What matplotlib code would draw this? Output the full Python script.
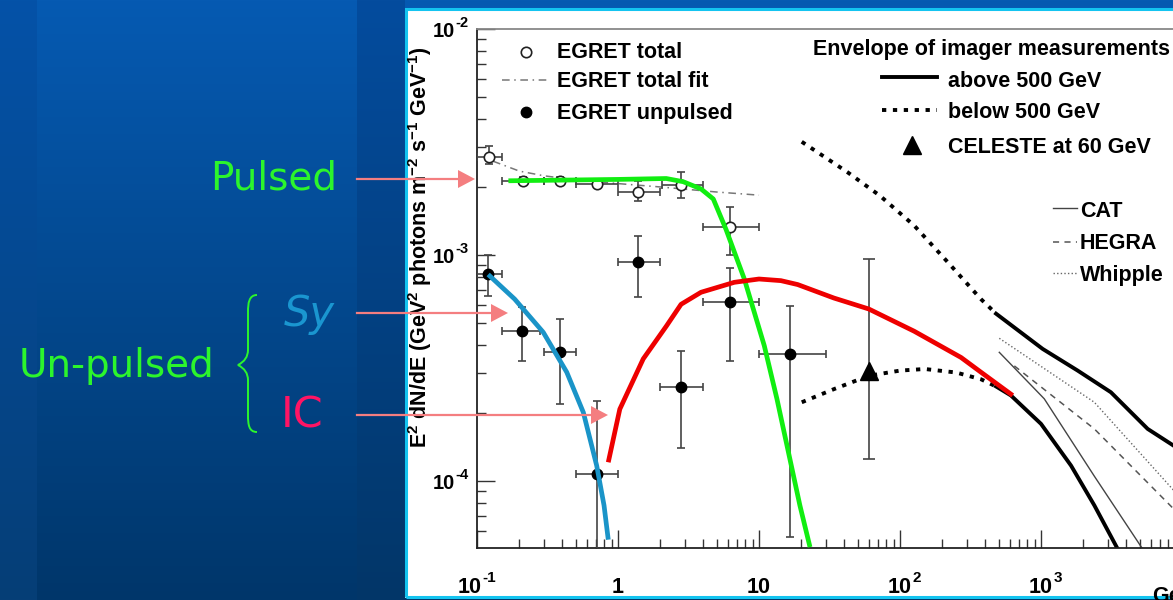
import numpy as np
import matplotlib
matplotlib.use('Agg')
import matplotlib.pyplot as plt
from matplotlib.lines import Line2D
from matplotlib.patches import Rectangle, Polygon, PathPatch
from matplotlib.path import Path
from matplotlib.transforms import IdentityTransform, blended_transform_factory, offset_copy

plt.rcParams['mathtext.fontset'] = 'custom'
plt.rcParams['mathtext.rm'] = 'Liberation Sans:bold'
plt.rcParams['mathtext.bf'] = 'Liberation Sans:bold'
plt.rcParams['mathtext.it'] = 'Liberation Sans:bold'
plt.rcParams['mathtext.sf'] = 'Liberation Sans:bold'
plt.rcParams['mathtext.default'] = 'bf'

# ---------------- data (GeV, E^2 dN/dE) ----------------
egret_total_E = [0.122, 0.211, 0.388, 0.706, 1.39, 2.80, 6.22]
egret_total_F = [2.72e-3, 2.13e-3, 2.13e-3, 2.07e-3, 1.90e-3, 2.05e-3, 1.33e-3]
egret_total_Elo = [0.10, 0.15, 0.30, 0.50, 1.00, 2.05, 4.00]
egret_total_Ehi = [0.15, 0.30, 0.50, 1.00, 2.00, 4.00, 10.0]
egret_total_Flo = [2.53e-3, 2.06e-3, 2.06e-3, 2.00e-3, 1.74e-3, 1.78e-3, 1.00e-3]
egret_total_Fhi = [3.05e-3, 2.21e-3, 2.21e-3, 2.14e-3, 2.13e-3, 2.32e-3, 1.63e-3]

fit_E = [0.13, 0.2, 0.3, 0.5, 1.0, 2.0, 5.0, 10.0]
fit_F = [2.60e-3, 2.35e-3, 2.24e-3, 2.15e-3, 2.07e-3, 2.00e-3, 1.90e-3, 1.84e-3]

unpulsed_E = [0.120, 0.207, 0.390, 0.710, 1.39, 2.80, 6.20, 16.6]
unpulsed_F = [8.2e-4, 4.62e-4, 3.73e-4, 1.07e-4, 9.3e-4, 2.6e-4, 6.18e-4, 3.65e-4]
unpulsed_Elo = [0.10, 0.15, 0.30, 0.50, 1.0, 2.0, 4.0, 10.0]
unpulsed_Ehi = [0.15, 0.28, 0.50, 1.0, 2.0, 4.0, 10.0, 30.0]
unpulsed_Flo = [6.6e-4, 3.4e-4, 2.2e-4, 1.0e-5, 6.5e-4, 1.4e-4, 3.4e-4, 5.65e-5]
unpulsed_Fhi = [1.0e-3, 5.9e-4, 5.2e-4, 2.25e-4, 1.21e-3, 3.76e-4, 8.8e-4, 5.94e-4]

celeste_E = [60.0]
celeste_F = [3.08e-4]
celeste_Flo = [1.25e-4]
celeste_Fhi = [9.6e-4]

upper_dotted_E = [20.1, 42.6, 72, 126, 218, 375, 480]
upper_dotted_F = [3.17e-3, 2.32e-3, 1.83e-3, 1.35e-3, 9.3e-4, 6.38e-4, 5.5e-4]
upper_solid_E = [480, 1028, 1820, 3130, 5710, 8770, 12000]
upper_solid_F = [5.5e-4, 3.84e-4, 3.08e-4, 2.47e-4, 1.70e-4, 1.43e-4, 1.2e-4]
lower_dotted_E = [20.1, 34, 60, 100, 150, 250, 375, 480]
lower_dotted_F = [2.23e-4, 2.55e-4, 2.92e-4, 3.08e-4, 3.13e-4, 3.02e-4, 2.82e-4, 2.62e-4]
lower_solid_E = [480, 612, 1000, 1633, 2390, 3500]
lower_solid_F = [2.62e-4, 2.39e-4, 1.79e-4, 1.17e-4, 7.8e-5, 5.0e-5]

cat_E = [506, 1055, 2390, 5260]
cat_F = [3.71e-4, 2.31e-4, 1.05e-4, 5.0e-5]
hegra_E = [647, 2390, 8770, 12000]
hegra_F = [3.23e-4, 1.70e-4, 7.5e-5, 5.9e-5]
whipple_E = [506, 2390, 8770, 12000]
whipple_F = [4.28e-4, 2.23e-4, 9.06e-5, 7.0e-5]

pulsed_E = [0.167, 1.0, 2.2, 2.9, 3.88, 4.74, 5.83, 7.87, 10.9, 13.4, 19.5, 23]
pulsed_F = [2.13e-3, 2.16e-3, 2.18e-3, 2.11e-3, 1.96e-3, 1.77e-3, 1.30e-3,
            7.83e-4, 3.97e-4, 2.31e-4, 7.8e-5, 5.1e-5]
sy_E = [0.120, 0.185, 0.295, 0.433, 0.568, 0.706, 0.796, 0.853]
sy_F = [8.2e-4, 6.38e-4, 4.55e-4, 3.03e-4, 2.01e-4, 1.17e-4, 7.8e-5, 5.5e-5]
ic_E = [0.853, 1.03, 1.51, 2.21, 2.8, 3.88, 6.68, 10, 14.3, 18.8, 34, 60, 126, 271, 375, 630]
ic_F = [1.21e-4, 2.08e-4, 3.47e-4, 4.86e-4, 6.05e-4, 6.84e-4, 7.57e-4, 7.83e-4, 7.7e-4,
        7.4e-4, 6.45e-4, 5.77e-4, 4.6e-4, 3.52e-4, 3.03e-4, 2.39e-4]

xtick_vals = [0.1, 1, 10, 100, 1000]
xtick_base = ['10', '1', '10', '10', '10']
xtick_exp = ['-1', '', '', '2', '3']
ytick_vals = [1e-4, 1e-3, 1e-2]
ytick_base = ['10', '10', '10']
ytick_exp = ['-4', '-3', '-2']

legend_left = ['EGRET total', 'EGRET total fit', 'EGRET unpulsed']
legend_right_title = 'Envelope of imager measurements'
legend_right = ['above 500 GeV', 'below 500 GeV', 'CELESTE at 60 GeV']
legend_tel = ['CAT', 'HEGRA', 'Whipple']

# ---------------- figure ----------------
W, H = 1173, 600
fig = plt.figure(figsize=(W / 100, H / 100), dpi=100)
ID = IdentityTransform()

def Y(y):
    return H - y

# background slide gradient
bg = fig.add_axes([0, 0, 1, 1], zorder=-10)
bg.axis('off')
t = np.linspace(0, 1, H)[:, None, None]
def grad(top, bot):
    top = np.array(top, float)[None, None, :] / 255
    bot = np.array(bot, float)[None, None, :] / 255
    return top + (bot - top) * t
img = np.zeros((H, W, 3))
img[:, :, :] = grad((6, 90, 178), (0, 54, 106))
img[:, :37, :] = grad((4, 82, 168), (6, 62, 118))
img[:, 357:405, :] = grad((4, 76, 158), (2, 54, 104))
bg.imshow(img, aspect='auto', interpolation='nearest')

# white panel
panel = Rectangle((405, Y(598)), 800, 590, transform=ID, facecolor='white',
                  edgecolor='none', zorder=-5)
fig.add_artist(panel)
border = Rectangle((406, Y(597)), 800, 588, transform=ID, facecolor='none',
                   edgecolor='#14c4f0', linewidth=2.2, zorder=3)
fig.add_artist(border)

# main axes
ax = fig.add_axes([477 / W, (H - 548) / H, 705 / W, 519 / H], zorder=0)
ax.set_xscale('log')
ax.set_yscale('log')
ax.set_xlim(0.1, 1e4)
ax.set_ylim(10 ** -4.2965, 1e-2)
ax.spines['right'].set_visible(False)
ax.spines['top'].set_color('#888888')
ax.spines['top'].set_linewidth(1.3)
for s in ('left', 'bottom'):
    ax.spines[s].set_color('#222222')
    ax.spines[s].set_linewidth(1.3)
ax.set_xticks(xtick_vals)
ax.set_yticks(ytick_vals)
ax.tick_params(which='both', direction='in', top=False, right=False,
               labelleft=False, labelbottom=False, color='#333333', width=1)
ax.tick_params(which='major', length=13)
ax.tick_params(which='minor', length=6.5)

# data
ax.errorbar(egret_total_E, egret_total_F,
            xerr=[np.subtract(egret_total_E, egret_total_Elo), np.subtract(egret_total_Ehi, egret_total_E)],
            yerr=[np.subtract(egret_total_F, egret_total_Flo), np.subtract(egret_total_Fhi, egret_total_F)],
            fmt='o', ms=7.5, mfc='white', mec='#222222', mew=1.2, ecolor='#444444',
            elinewidth=1.2, capsize=3, capthick=1.2, zorder=3)
ax.plot(fit_E, fit_F, color='#777777', lw=1.1, ls=(0, (5, 3, 1, 3)), zorder=2)
ax.errorbar(unpulsed_E, unpulsed_F,
            xerr=[np.subtract(unpulsed_E, unpulsed_Elo), np.subtract(unpulsed_Ehi, unpulsed_E)],
            yerr=[np.subtract(unpulsed_F, unpulsed_Flo), np.subtract(unpulsed_Fhi, unpulsed_F)],
            fmt='o', ms=7.5, mfc='black', mec='black', ecolor='#444444',
            elinewidth=1.2, capsize=3, capthick=1.2, zorder=3)
ax.errorbar(celeste_E, celeste_F,
            yerr=[np.subtract(celeste_F, celeste_Flo), np.subtract(celeste_Fhi, celeste_F)],
            fmt='^', ms=13, color='black', ecolor='#444444', elinewidth=1.2,
            capsize=4, capthick=1.2, zorder=3)

ax.plot(upper_dotted_E, upper_dotted_F, color='black', lw=2.8, ls=(0, (1.1, 1.7)), zorder=2)
ax.plot(lower_dotted_E, lower_dotted_F, color='black', lw=2.8, ls=(0, (1.1, 1.7)), zorder=2)
ax.plot(upper_solid_E, upper_solid_F, color='black', lw=2.8, zorder=2)
ax.plot(lower_solid_E, lower_solid_F, color='black', lw=2.8, zorder=2)
ax.plot(cat_E, cat_F, color='#444444', lw=1.0, zorder=2)
ax.plot(hegra_E, hegra_F, color='#555555', lw=1.1, ls=(0, (4, 3.5)), zorder=2)
ax.plot(whipple_E, whipple_F, color='#666666', lw=1.0, ls=(0, (1, 1.6)), zorder=2)

ax.plot(pulsed_E, pulsed_F, color='#11ee11', lw=3.4, solid_capstyle='butt',
        solid_joinstyle='round', zorder=5)
ax.plot(sy_E, sy_F, color='#1a94c8', lw=3.4, solid_capstyle='butt',
        solid_joinstyle='round', zorder=5)
ax.plot(ic_E, ic_F, color='#ee0000', lw=3.4, solid_capstyle='butt',
        solid_joinstyle='round', zorder=5)

# tick labels ("10" with a raised exponent, ROOT style)
def tfont(size):
    return dict(family='Liberation Sans', weight='bold', fontsize=size, color='black')

def add_exp(main, exp, size):
    if exp:
        ax.annotate(exp, xy=(1.0, 1.0), xycoords=main, xytext=(0.5, -1),
                    textcoords='offset points', ha='left', va='center',
                    annotation_clip=False, **tfont(size))

xtr = blended_transform_factory(ax.transData, ID)
for i, (v, b, e) in enumerate(zip(xtick_vals, xtick_base, xtick_exp)):
    dx = -7 if i == 0 else 0
    tr = offset_copy(xtr, fig=fig, x=dx, units='dots')
    m = fig.text(v, Y(593), b, transform=tr, ha='center', va='baseline', **tfont(15.5))
    add_exp(m, e, 11)

ytr = offset_copy(blended_transform_factory(ID, ax.transData), fig=fig, y=-8, units='dots')
for v, b, e in zip(ytick_vals, ytick_base, ytick_exp):
    m = fig.text(455, v, b, transform=ytr, ha='right', va='baseline', **tfont(14.5))
    add_exp(m, e, 10.5)

lfont = dict(family='Liberation Sans', weight='bold', fontsize=15.5, color='black')
fig.text(1152, Y(602), 'GeV', transform=ID, ha='left', va='baseline', **lfont)
fig.text(420, Y(247), r'E$^{2}$ dN/dE (GeV$^{2}$ photons m$^{-2}$ s$^{-1}$ GeV$^{-1}$)',
         transform=ID, rotation=90, ha='center', va='center', **lfont)

# legends (drawn in figure pixels)
fig.add_artist(Line2D([526], [Y(52)], transform=ID, marker='o', ms=7.5, mfc='white',
                      mec='#222222', mew=1.2, ls='none'))
fig.add_artist(Line2D([502, 548], [Y(80), Y(80)], transform=ID, color='#777777', lw=1.1,
                      ls=(0, (5, 3, 1, 3))))
fig.add_artist(Line2D([526], [Y(112)], transform=ID, marker='o', ms=7.5, mfc='black',
                      mec='black', ls='none'))
for s, yb in zip(legend_left, [58.3, 87.3, 119]):
    fig.text(557, Y(yb), s, transform=ID, ha='left', va='baseline', **lfont)

fig.text(813, Y(55), legend_right_title, transform=ID, ha='left', va='baseline', **lfont)
fig.add_artist(Line2D([882, 937], [Y(77), Y(77)], transform=ID, color='black', lw=2.8))
fig.add_artist(Line2D([882, 937], [Y(110), Y(110)], transform=ID, color='black', lw=2.8,
                      ls=(0, (1.1, 1.7))))
fig.add_artist(Line2D([912], [Y(145)], transform=ID, marker='^', ms=13, color='black', ls='none'))
for s, yb in zip(legend_right, [87.3, 118.3, 152.7]):
    fig.text(948, Y(yb), s, transform=ID, ha='left', va='baseline', **lfont)

fig.add_artist(Line2D([1053, 1077], [Y(208), Y(208)], transform=ID, color='#444444', lw=1.0))
fig.add_artist(Line2D([1053, 1077], [Y(242), Y(242)], transform=ID, color='#555555', lw=1.1,
                      ls=(0, (4, 3.5))))
fig.add_artist(Line2D([1053, 1077], [Y(273), Y(273)], transform=ID, color='#666666', lw=1.0,
                      ls=(0, (1, 1.6))))
for s, yb in zip(legend_tel, [216.7, 249.3, 281]):
    fig.text(1080, Y(yb), s, transform=ID, ha='left', va='baseline', **lfont)

# slide annotations
green = '#2cf52c'
afont = dict(family='DejaVu Sans', fontsize=28)
fig.text(274, Y(190), 'Pulsed', transform=ID, ha='center', va='baseline', color=green, **afont)
fig.text(116, Y(377), 'Un-pulsed', transform=ID, ha='center', va='baseline', color=green, **afont)
fig.text(309, Y(326), 'Sy', transform=ID, ha='center', va='baseline', color='#1a96d0',
         style='italic', family='DejaVu Sans', fontsize=30)
fig.text(302, Y(427), 'IC', transform=ID, ha='center', va='baseline', color='#ff1464',
         family='DejaVu Sans', fontsize=31)

# curly brace
verts = [(257, Y(295)), (249, Y(295)), (248, Y(303)), (248, Y(312)),
         (248, Y(350)), (248, Y(360)), (238, Y(365)),
         (248, Y(370)), (248, Y(380)), (248, Y(415)),
         (248, Y(425)), (249, Y(432)), (257, Y(432))]
codes = [Path.MOVETO, Path.CURVE4, Path.CURVE4, Path.CURVE4,
         Path.LINETO, Path.CURVE3, Path.CURVE3,
         Path.CURVE3, Path.CURVE3, Path.LINETO,
         Path.CURVE4, Path.CURVE4, Path.CURVE4]
fig.add_artist(PathPatch(Path(verts, codes), transform=ID, facecolor='none',
                         edgecolor=green, lw=1.4, zorder=5))

# arrows
pink = '#f47e80'
for yy, tip in [(179, 475), (313, 508), (415, 608)]:
    fig.add_artist(Line2D([357, tip - 12], [Y(yy), Y(yy)], transform=ID, color=pink,
                          lw=1.6, zorder=6))
    fig.add_artist(Polygon([(tip, Y(yy)), (tip - 17, Y(yy) + 9), (tip - 17, Y(yy) - 9)],
                           closed=True, transform=ID, facecolor=pink, edgecolor='none',
                           zorder=6))

fig.savefig('out.png', dpi=100)
